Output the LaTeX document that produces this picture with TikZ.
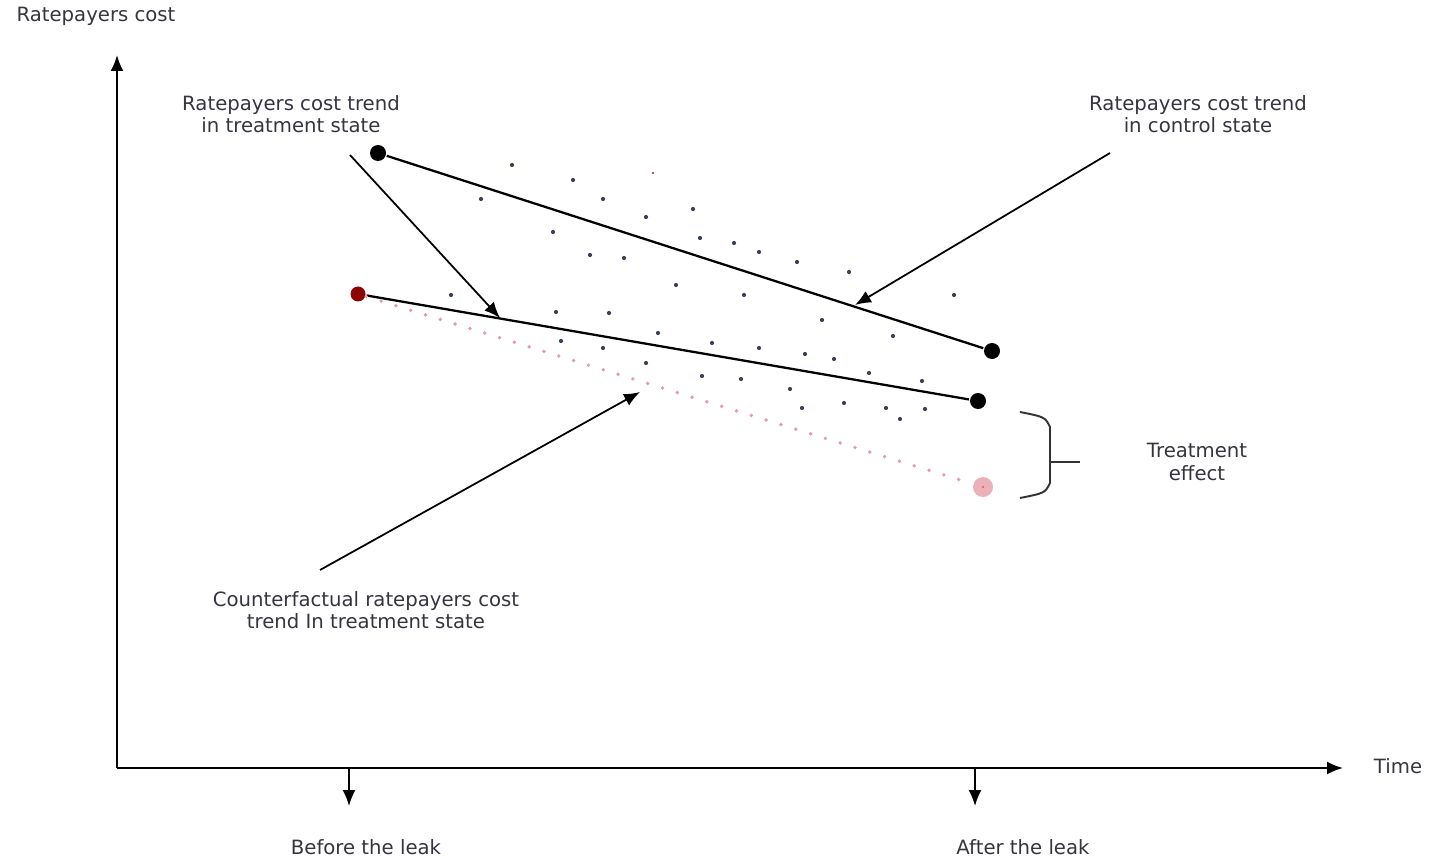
\documentclass[tikz,border=0pt]{standalone}
\usepackage{fontspec}
\setmainfont{DejaVu Sans}
\usepackage{xcolor}
\usepackage{tikz}
\usetikzlibrary{arrows.meta}

\definecolor{txtgray}{rgb}{0.22,0.2,0.25}
\definecolor{specgray}{rgb}{0.22,0.26,0.36}
\definecolor{cfpink}{rgb}{0.9,0.62,0.66}
\definecolor{darkred}{rgb}{0.55,0.02,0.02}

\tikzset{
	lbl/.style={font=\fontsize{5.6}{6.4}\selectfont, text=txtgray, align=center, inner sep=1pt},
	bigdot/.style={circle, fill=black, inner sep=0pt, minimum size=0.16cm},
	arr/.style={-{Latex[length=1.6mm,width=1.3mm]}, line width=0.5pt},
}

\begin{document}
\begin{tikzpicture}[line width=0.65pt]
			\useasboundingbox (0,0) rectangle (14.3,8.57);
			
			% axes
			\coordinate (O) at (1.17,0.89);
			\coordinate (ytop) at (1.17,8.02);
			\coordinate (xend) at (13.43,0.89);
			\draw[arr, line width=0.6pt] (O) -- (ytop);
			\draw[arr, line width=0.6pt] (O) -- (xend);
			\node[lbl] (ylab) at (0.96,8.41) {Ratepayers cost};
			\node[lbl] (xlab) at (13.98,0.91) {Time};
			
			\coordinate (before) at (3.49,0.89);
			\coordinate (beforedn) at (3.49,0.51);
			\coordinate (after) at (9.75,0.89);
			\coordinate (afterdn) at (9.75,0.51);
			\draw[arr] (before) -- (beforedn);
			\draw[arr] (after) -- (afterdn);
			\node[lbl] (beforelab) at (3.66,0.10) {Before the leak};
			\node[lbl] (afterlab) at (10.23,0.10) {After the leak};
			
			% scattered points
			\foreach \p in {(5.12,6.92),(5.73,6.77),(4.81,6.58),(6.03,6.58),(6.93,6.48),(6.46,6.40),
				(5.53,6.25),(7.00,6.19),(7.34,6.14),(7.59,6.05),(5.90,6.02),(6.24,5.99),(7.97,5.95),
				(8.49,5.85),(6.76,5.72),(7.44,5.62),(9.54,5.62),(4.51,5.62),(5.56,5.45),(6.09,5.44),
				(8.22,5.37),(6.58,5.24),(8.93,5.21),(5.61,5.16),(6.03,5.09),(7.12,5.14),(7.59,5.09),
				(8.05,5.03),(8.34,4.98),(6.46,4.94),(8.69,4.84),(7.02,4.81),(7.41,4.78),(7.90,4.68),
				(9.22,4.76),(8.02,4.49),(8.44,4.54),(8.86,4.49),(9.25,4.48),(9.00,4.38)}
				\fill[specgray] \p circle (0.021);
			\fill[darkred!70] (6.53,6.84) circle (0.013);
			
			% trends
			\node[bigdot] (c1) at (3.78,7.04) {};
			\node[bigdot] (c2) at (9.92,5.06) {};
			\node[circle, fill=darkred, inner sep=0pt, minimum size=0.15cm] (t1) at (3.58,5.63) {};
			\node[bigdot] (t2) at (9.78,4.56) {};
			\node[circle, fill=cfpink!80, inner sep=0pt, minimum size=0.2cm] (cf2) at (9.83,3.70) {};
			\fill[red!70] (cf2) circle (0.012);
			
			\draw (c1) -- (c2);
			\draw (t1) -- (t2);
			\draw[cfpink, line width=1.1pt, line cap=round, dash pattern=on 0pt off 0.155cm] (t1) -- (cf2);
			
			% labels and pointers
			\node[lbl] (treatlab) at (2.91,7.43) {Ratepayers cost trend\\in treatment state};
			\node[lbl] (ctrllab) at (11.98,7.43) {Ratepayers cost trend\\in control state};
			\node[lbl] (cflab) at (3.66,2.47) {Counterfactual ratepayers cost\\trend In treatment state};
			
			\coordinate (treatfrom) at (3.50,7.02);
			\coordinate (treatto) at (5.00,5.39);
			\coordinate (ctrlfrom) at (11.10,7.04);
			\coordinate (ctrlto) at (8.55,5.52);
			\coordinate (cffrom) at (3.20,2.87);
			\coordinate (cfto) at (6.40,4.65);
			\draw[arr] (treatfrom) -- (treatto);
			\draw[arr] (ctrlfrom) -- (ctrlto);
			\draw[arr] (cffrom) -- (cfto);
			
			% treatment effect brace
			\coordinate (brtop) at (10.20,4.45);
			\coordinate (brbot) at (10.20,3.59);
			\coordinate (brmid) at (10.50,3.95);
			\draw[black!80, line width=0.55pt] (brtop) .. controls (10.45,4.40) .. (10.50,4.30)
				-- (10.50,3.74) .. controls (10.45,3.64) .. (brbot);
			\node[lbl] (efflab) at (11.97,3.95) {Treatment\\effect};
			\draw[black!80, line width=0.55pt] (brmid) -- ++(0.30,0);
		\end{tikzpicture}
\end{document}
